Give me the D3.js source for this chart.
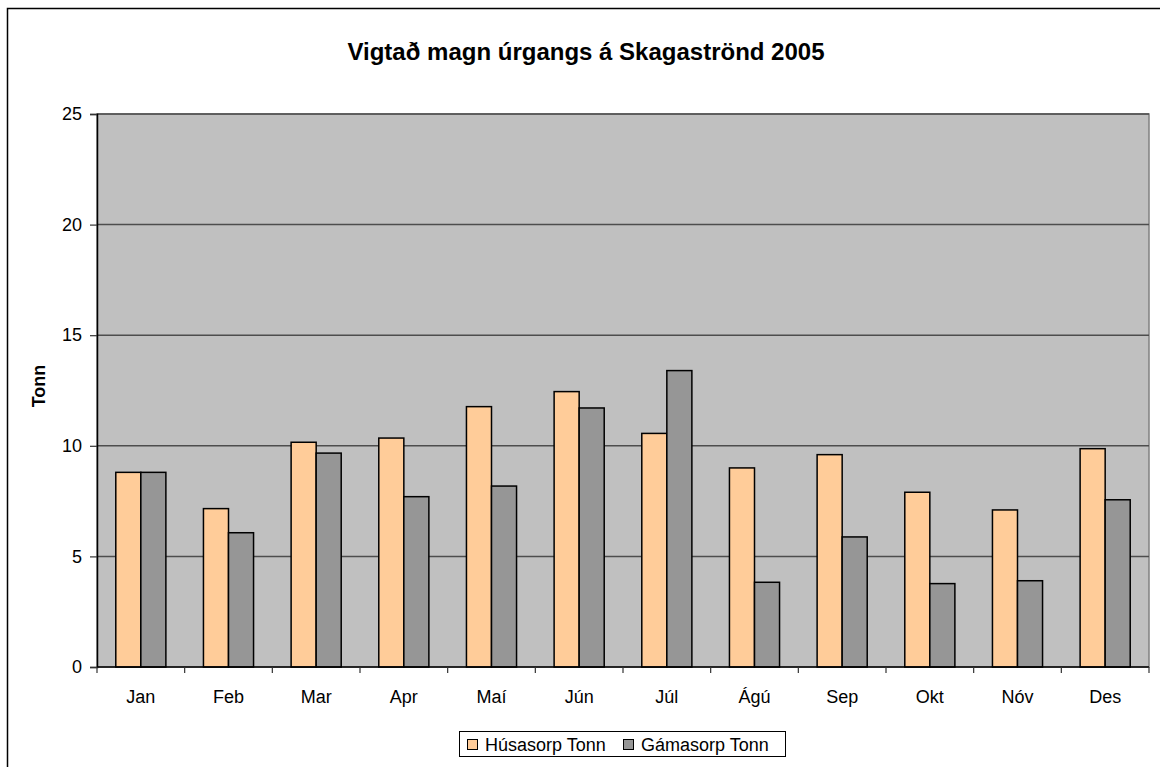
<!DOCTYPE html>
<html>
<head>
<meta charset="utf-8">
<script src="https://cdn.jsdelivr.net/npm/d3@7"></script>
<style>
  body { margin: 0; background: #fff; }
  svg text { font-family: "Liberation Sans", Arial, sans-serif; fill: #000; }
</style>
</head>
<body>
<script>
// mánuðir og gildi, lesin af myndinni
var months = ["Jan", "Feb", "Mar", "Apr", "Maí", "Jún", "Júl", "Ágú", "Sep", "Okt", "Nóv", "Des"];
var husasorp = [8.8, 7.16, 10.16, 10.35, 11.77, 12.45, 10.56, 9.0, 9.6, 7.9, 7.1, 9.87];
var gamasorp = [8.8, 6.07, 9.67, 7.7, 8.18, 11.71, 13.4, 3.83, 5.88, 3.77, 3.9, 7.56];
var seriesNames = ["Húsasorp Tonn", "Gámasorp Tonn"];
var seriesColors = ["#FFCC99", "#969696"];
var yTicks = [0, 5, 10, 15, 20, 25];

var W = 1160, H = 767;
var margin = {top: 114, right: 11, bottom: 100, left: 97},
    width = W - margin.left - margin.right,
    height = H - margin.top - margin.bottom;

var svg = d3.select("body").append("svg")
    .attr("width", W)
    .attr("height", H);

// ytri rammi
svg.append("rect")
    .attr("x", 7.5).attr("y", 8.5)
    .attr("width", W).attr("height", H)
    .attr("fill", "#fff")
    .attr("stroke", "#000")
    .attr("stroke-width", 1.5);

svg.append("text")
    .attr("x", 586).attr("y", 60)
    .attr("text-anchor", "middle")
    .style("font-size", "24px")
    .style("font-weight", "bold")
    .text("Vigtað magn úrgangs á Skagaströnd 2005");

var g = svg.append("g")
    .attr("transform", "translate(" + margin.left + "," + margin.top + ")");

var x0 = d3.scaleBand()
    .domain(months)
    .range([0, width])
    .paddingInner(3 / 7)
    .paddingOuter(1.5 / 7);

var x1 = d3.scaleBand()
    .domain([0, 1])
    .range([0, x0.bandwidth()]);

var y = d3.scaleLinear()
    .domain([0, 25])
    .range([height, 0]);

// bakgrunnur
g.append("rect")
    .attr("width", width).attr("height", height)
    .attr("fill", "#C0C0C0")
    .attr("stroke", "#808080")
    .attr("stroke-width", 1.5);

// hnitalínur
g.selectAll("line.grid")
    .data(yTicks.filter(function(d) { return d > 0; }))
    .enter().append("line")
    .attr("class", "grid")
    .attr("x1", 0).attr("x2", width)
    .attr("y1", function(d) { return y(d); })
    .attr("y2", function(d) { return y(d); })
    .attr("stroke", "#4d4d4d")
    .attr("stroke-width", 1.5);

// súlur
var rows = months.map(function(m, i) { return {m: m, v: [husasorp[i], gamasorp[i]]}; });

var groups = g.selectAll("g.month")
    .data(rows)
    .enter().append("g")
    .attr("class", "month")
    .attr("transform", function(d) { return "translate(" + x0(d.m) + ",0)"; });

groups.selectAll("rect")
    .data(function(d) { return d.v.map(function(v, k) { return {k: k, v: v}; }); })
    .enter().append("rect")
    .attr("x", function(d) { return x1(d.k); })
    .attr("width", x1.bandwidth())
    .attr("y", function(d) { return y(d.v); })
    .attr("height", function(d) { return y(0) - y(d.v); })
    .attr("fill", function(d) { return seriesColors[d.k]; })
    .attr("stroke", "#000")
    .attr("stroke-width", 1.5);

// y ás
var yAxis = d3.axisLeft(y)
    .tickValues(yTicks)
    .tickSize(7)
    .tickPadding(8);

var ya = g.append("g").call(yAxis);
ya.select(".domain").attr("stroke", "#000").attr("stroke-width", 1.5);
ya.selectAll(".tick line").attr("stroke", "#333").attr("stroke-width", 1.2);
ya.selectAll("text").style("font-size", "18px");

// x ás, merki á milli flokka
var xa = g.append("g").attr("transform", "translate(0," + height + ")");
xa.append("line")
    .attr("x1", 0).attr("x2", width)
    .attr("stroke", "#000").attr("stroke-width", 1.5);
var step = x0.step();
xa.selectAll("line.tk")
    .data(d3.range(months.length + 1))
    .enter().append("line")
    .attr("class", "tk")
    .attr("x1", function(i) { return i * step; })
    .attr("x2", function(i) { return i * step; })
    .attr("y1", 0).attr("y2", 6)
    .attr("stroke", "#333").attr("stroke-width", 1.2);
xa.selectAll("text")
    .data(months)
    .enter().append("text")
    .attr("x", function(d) { return x0(d) + x0.bandwidth() / 2; })
    .attr("y", 36)
    .attr("text-anchor", "middle")
    .style("font-size", "18px")
    .text(function(d) { return d; });

svg.append("text")
    .attr("transform", "translate(45,386) rotate(-90)")
    .attr("text-anchor", "middle")
    .style("font-size", "18px")
    .style("font-weight", "bold")
    .text("Tonn");

// skýringar
var legend = svg.append("g");
legend.append("rect")
    .attr("x", 459.5).attr("y", 731.5)
    .attr("width", 326).attr("height", 25)
    .attr("fill", "#fff")
    .attr("stroke", "#000")
    .attr("stroke-width", 1);

var lx = [467, 623];
seriesNames.forEach(function(name, k) {
    legend.append("rect")
        .attr("x", lx[k] + 0.5).attr("y", 739.5)
        .attr("width", 10).attr("height", 10)
        .attr("fill", seriesColors[k])
        .attr("stroke", "#000");
    legend.append("text")
        .attr("x", lx[k] + 18).attr("y", 751)
        .style("font-size", "18px")
        .text(name);
});
</script>
</body>
</html>
